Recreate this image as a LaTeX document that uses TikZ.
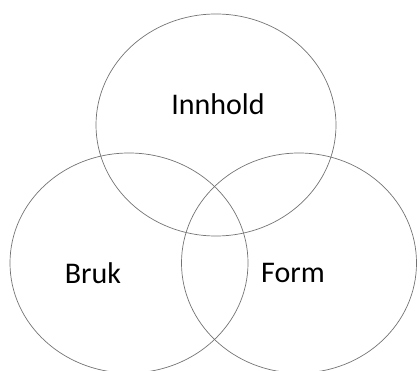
\documentclass[tikz,border=0pt]{standalone}
\usepackage{fontspec}
\setmainfont{Carlito}

\begin{document}
\begin{tikzpicture}[
    x=1pt, y=-1pt,
    % Estilos
    ring/.style={draw=black!55, line width=0.7pt},
    lbl/.style={font=\fontsize{30}{36}\selectfont, inner sep=0pt}
]
\useasboundingbox (0,0) rectangle (417,371);

% Circulos
\draw[ring] (216,125) ellipse [x radius=120, y radius=111];
\draw[ring] (129,263) ellipse [x radius=119, y radius=110];
\draw[ring] (299,263) ellipse [x radius=117.5, y radius=110];

% Textos
\node[lbl] (innhold) at (218,104) {Innhold};
\node[lbl] (bruk) at (93,273) {Bruk};
\node[lbl] (form) at (293,273) {Form};
\end{tikzpicture}
\end{document}
